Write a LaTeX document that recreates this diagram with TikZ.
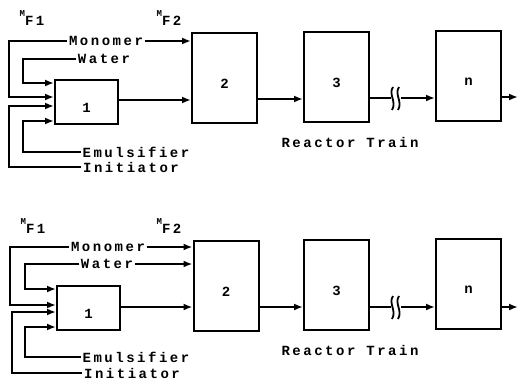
\documentclass[tikz,border=0pt]{standalone}
\usepackage{fontspec}
\newfontfamily\dotfont{Liberation Mono}[LetterSpace=18]
\usetikzlibrary{arrows.meta, positioning}
\newcommand\lowered[1]{\raisebox{-6pt}[\height][\depth]{#1}}
\newcommand\feedrate[1]{\raisebox{5pt}{\fontsize{9}{9}\selectfont M}\raisebox{-4pt}{#1}}

\begin{document}
\begin{tikzpicture}[x=1pt, y=-1pt,
  reactor/.style={draw, line width=2pt, minimum width=65pt, minimum height=90pt,
    inner sep=0pt, font={\dotfont\bfseries\fontsize{14}{16}\selectfont}},
  firstreactor/.style={reactor, minimum width=63pt, minimum height=44pt},
  feed/.style={inner sep=1.5pt, font={\dotfont\bfseries\fontsize{14}{16}\selectfont}},
  tag/.style={inner sep=0pt, font={\dotfont\bfseries\fontsize{14}{16}\selectfont}},
  flow/.style={line width=1.8pt, -{Latex[length=9pt, width=7pt]}},
  pipe/.style={line width=1.8pt}]
  \useasboundingbox (0,0) rectangle (520,388);

  % upper train
  \node[firstreactor] (r1) at (86.5,102) {\lowered{1}};
  \node[reactor] (r2) at (224.5,78) {\lowered{2}};
  \node[reactor] (r3) at (336.5,77) {\lowered{3}};
  \node[reactor] (rn) at (468.5,76) {\lowered{n}};
  \node[feed] (train) at (350,142) {Reactor Train};

  \node[feed] (mono) at (106,41) {Monomer};
  \node[feed] (water) at (104,59) {Water};
  \node[feed] (emul) at (136,152) {Emulsifier};
  \node[feed] (init) at (131,167) {Initiator};
  \node[tag] (mf1) at (32,18) {\feedrate{F1}};
  \node[tag] (mf2) at (169,18) {\feedrate{F2}};
  \coordinate (brk1) at (391,98);
  \coordinate (brk2) at (401,98);
  \coordinate (out) at (518,97);

  \draw[flow] (mono.east) -- (r2.west |- mono.east);
  \draw[flow] (mono.west) -| (9,97) -- (r1.west |- 0,97);
  \draw[flow] (water.west) -| (23,83) -- (r1.west |- 0,83);
  \draw[flow] (init.west) -| (9,106) -- (r1.west |- 0,106);
  \draw[flow] (emul.west) -| (23,121) -- (r1.west |- 0,121);
  \draw[flow] (r1.east |- 0,100) -- (r2.west |- 0,100);
  \draw[flow] (r2.east |- 0,99) -- (r3.west |- 0,99);
  \draw[pipe] (r3.east |- brk1) -- (brk1);
  \draw[pipe] (393,87) .. controls (388,94) and (397,102) .. (392,110);
  \draw[pipe] (399,87) .. controls (394,94) and (403,102) .. (398,110);
  \draw[flow] (brk2) -- (rn.west |- brk2);
  \draw[flow] (rn.east |- out) -- (out);

  % lower train
  \node[firstreactor] (r1b) at (88.5,308) {\lowered{1}};
  \node[reactor] (r2b) at (226,286) {\lowered{2}};
  \node[reactor] (r3b) at (336.5,285) {\lowered{3}};
  \node[reactor] (rnb) at (468.5,283.5) {\lowered{n}};
  \node[feed] (trainb) at (350,350) {Reactor Train};

  \node[feed] (monob) at (108,247) {Monomer};
  \node[feed] (waterb) at (107,264) {Water};
  \node[feed] (emulb) at (136,357) {Emulsifier};
  \node[feed] (initb) at (132,373) {Initiator};
  \node[tag] (mf1b) at (33,226) {\feedrate{F1}};
  \node[tag] (mf2b) at (169,226) {\feedrate{F2}};
  \coordinate (brk1b) at (391,307);
  \coordinate (brk2b) at (401,307);
  \coordinate (outb) at (518,307);

  \draw[flow] (monob.east) -- (r2b.west |- monob.east);
  \draw[flow] (waterb.east) -- (r2b.west |- waterb.east);
  \draw[flow] (monob.west) -| (10,305) -- (r1b.west |- 0,305);
  \draw[flow] (waterb.west) -| (25,289) -- (r1b.west |- 0,289);
  \draw[flow] (initb.west) -| (12,312) -- (r1b.west |- 0,312);
  \draw[flow] (emulb.west) -| (25,327) -- (r1b.west |- 0,327);
  \draw[flow] (r1b.east |- 0,307) -- (r2b.west |- 0,307);
  \draw[flow] (r2b.east |- 0,307) -- (r3b.west |- 0,307);
  \draw[pipe] (r3b.east |- brk1b) -- (brk1b);
  \draw[pipe] (393,296) .. controls (388,303) and (397,311) .. (392,319);
  \draw[pipe] (399,296) .. controls (394,303) and (403,311) .. (398,319);
  \draw[flow] (brk2b) -- (rnb.west |- brk2b);
  \draw[flow] (rnb.east |- outb) -- (outb);
\end{tikzpicture}
\end{document}
